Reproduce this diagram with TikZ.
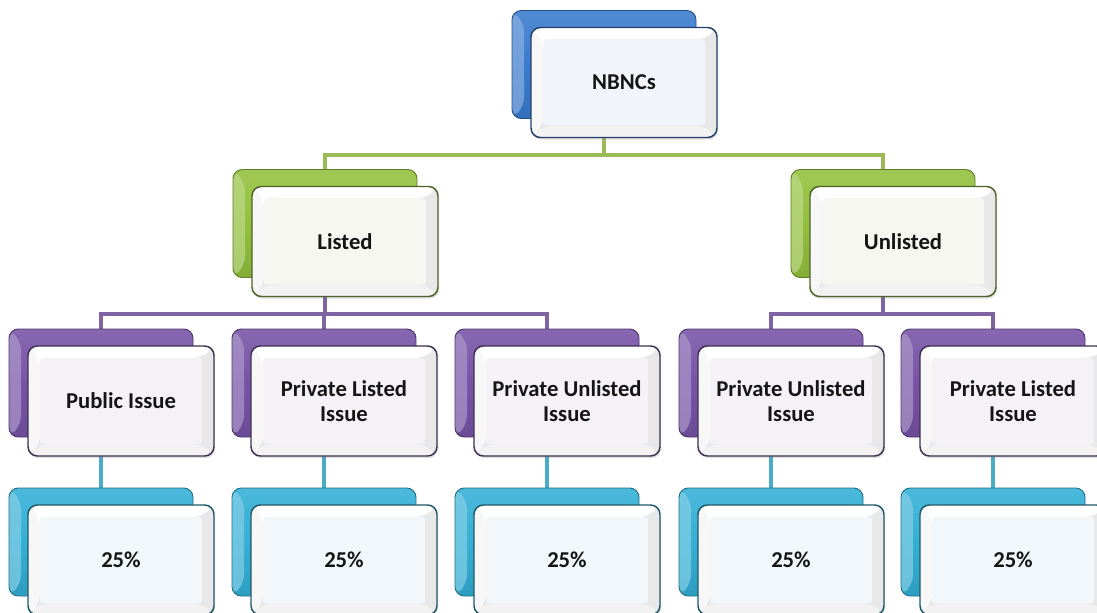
\documentclass[tikz,border=0pt]{standalone}
\usepackage{fontspec}
\setmainfont{Carlito}
\usetikzlibrary{shadows}

% palette
\definecolor{blueA}{HTML}{3A7BCE}
\definecolor{blueD}{HTML}{23406A}
\definecolor{blueT}{HTML}{F1F4FA}
\definecolor{greenA}{HTML}{92C03C}
\definecolor{greenL}{HTML}{9BBB59}
\definecolor{greenD}{HTML}{4F6228}
\definecolor{greenT}{HTML}{F5F7F0}
\definecolor{purpA}{HTML}{7753A6}
\definecolor{purpL}{HTML}{8064A2}
\definecolor{purpD}{HTML}{3F3151}
\definecolor{purpT}{HTML}{F4F2F7}
\definecolor{cyanA}{HTML}{33AFD5}
\definecolor{cyanL}{HTML}{4BACC6}
\definecolor{cyanD}{HTML}{215968}
\definecolor{cyanT}{HTML}{F1F7FA}
\definecolor{txt}{HTML}{151515}

\pgfdeclarelayer{bg}
\pgfsetlayers{bg,main}

\tikzset{
  x=0.75pt, y=-0.75pt,
  backbox/.style={
    draw=#1!65!black, line width=0.7pt, rounded corners=7pt,
    minimum width=138pt, minimum height=81pt, inner sep=0pt,
    top color=#1!88!white, bottom color=#1!90!black, middle color=#1,
    path picture={
      \fill[#1!60!white, opacity=0.7]
        (path picture bounding box.north west) --
        (path picture bounding box.south west) --
        ([shift={(9pt,9pt)}]path picture bounding box.south west) --
        ([shift={(9pt,-9pt)}]path picture bounding box.north west) -- cycle;
    }},
  frontbox/.style 2 args={
    draw=#1, line width=1.1pt, rounded corners=7pt,
    minimum width=139.5pt, minimum height=82.5pt, inner sep=0pt,
    fill=black!9, text=txt, align=center,
    font=\bfseries\fontsize{17}{19}\selectfont,
    drop shadow={opacity=0.25, shadow xshift=0.8pt, shadow yshift=-1.6pt},
    path picture={
      \fill[white]
        (path picture bounding box.south west) --
        (path picture bounding box.north west) --
        (path picture bounding box.north east) --
        ([shift={(-9pt,-9pt)}]path picture bounding box.north east) --
        ([shift={(9pt,-9pt)}]path picture bounding box.north west) --
        ([shift={(9pt,9pt)}]path picture bounding box.south west) -- cycle;
      \fill[black!3]
        (path picture bounding box.south west) --
        (path picture bounding box.north west) --
        ([shift={(9pt,-9pt)}]path picture bounding box.north west) --
        ([shift={(9pt,9pt)}]path picture bounding box.south west) -- cycle;
      \fill[black!5]
        (path picture bounding box.south west) --
        ([shift={(9pt,9pt)}]path picture bounding box.south west) --
        ([shift={(-9pt,9pt)}]path picture bounding box.south east) --
        (path picture bounding box.south east) -- cycle;
      \fill[#2, rounded corners=2pt]
        ([shift={(9pt,-9pt)}]path picture bounding box.north west) rectangle
        ([shift={(-9pt,9pt)}]path picture bounding box.south east);
    }},
  bA/.style={backbox=blueA},   fA/.style={frontbox={blueD}{blueT}},
  bB/.style={backbox=greenA},  fB/.style={frontbox={greenD}{greenT}},
  bC/.style={backbox=purpA},   fC/.style={frontbox={purpD}{purpT}},
  bD/.style={backbox=cyanA},   fD/.style={frontbox={cyanD}{cyanT}},
  link/.style={draw=#1, line width=3pt},
  off/.style={shift={(20,18)}},
}

\begin{document}
\begin{tikzpicture}
\clip (0,0) rectangle (1097,613);

% level 1
\node[bA] (nbncB) at (604,64.5) {};
\node[fA] (nbnc) at ([off]nbncB.center) {NBNCs};

% level 2
\node[bB] (listedB) at (325,223.5) {};
\node[fB] (listed) at ([off]listedB.center) {Listed};
\node[bB] (unlistedB) at (883,223.5) {};
\node[fB] (unlisted) at ([off]unlistedB.center) {Unlisted};

% level 3
\node[bC] (pubB) at (101,383) {};
\node[fC] (pub) at ([off]pubB.center) {Public Issue};
\node[bC] (plB) at (324,383) {};
\node[fC] (pl) at ([off]plB.center) {Private Listed\\Issue};
\node[bC] (puB) at (547,383) {};
\node[fC] (pu) at ([off]puB.center) {Private Unlisted\\Issue};
\node[bC] (upuB) at (771,383) {};
\node[fC] (upu) at ([off]upuB.center) {Private Unlisted\\Issue};
\node[bC] (uplB) at (993,383) {};
\node[fC] (upl) at ([off]uplB.center) {Private Listed\\Issue};

% level 4
\node[bD] (sAB) at (101,542) {};
\node[fD] (sA) at ([off]sAB.center) {25\%};
\node[bD] (sBB) at (324,542) {};
\node[fD] (sB) at ([off]sBB.center) {25\%};
\node[bD] (sCB) at (547,542) {};
\node[fD] (sC) at ([off]sCB.center) {25\%};
\node[bD] (sDB) at (771,542) {};
\node[fD] (sD) at ([off]sDB.center) {25\%};
\node[bD] (sEB) at (993,542) {};
\node[fD] (sE) at ([off]sEB.center) {25\%};

% connectors, behind the boxes
\begin{pgfonlayer}{bg}
\fill[white] (0,0) rectangle (1097,613);
\draw[link=greenL] (nbncB.south) -- ++(0,36) -| (listedB.north);
\draw[link=greenL] (nbncB.south) -- ++(0,36) -| (unlistedB.north);
\foreach \c in {pubB,plB,puB}
  \draw[link=purpL] (listedB.south) -- ++(0,36) -| (\c.north);
\foreach \c in {upuB,uplB}
  \draw[link=purpL] (unlistedB.south) -- ++(0,36) -| (\c.north);
\draw[link=cyanL] (pubB.south) -- (sAB.north);
\draw[link=cyanL] (plB.south) -- (sBB.north);
\draw[link=cyanL] (puB.south) -- (sCB.north);
\draw[link=cyanL] (upuB.south) -- (sDB.north);
\draw[link=cyanL] (uplB.south) -- (sEB.north);
\end{pgfonlayer}
\end{tikzpicture}
\end{document}
